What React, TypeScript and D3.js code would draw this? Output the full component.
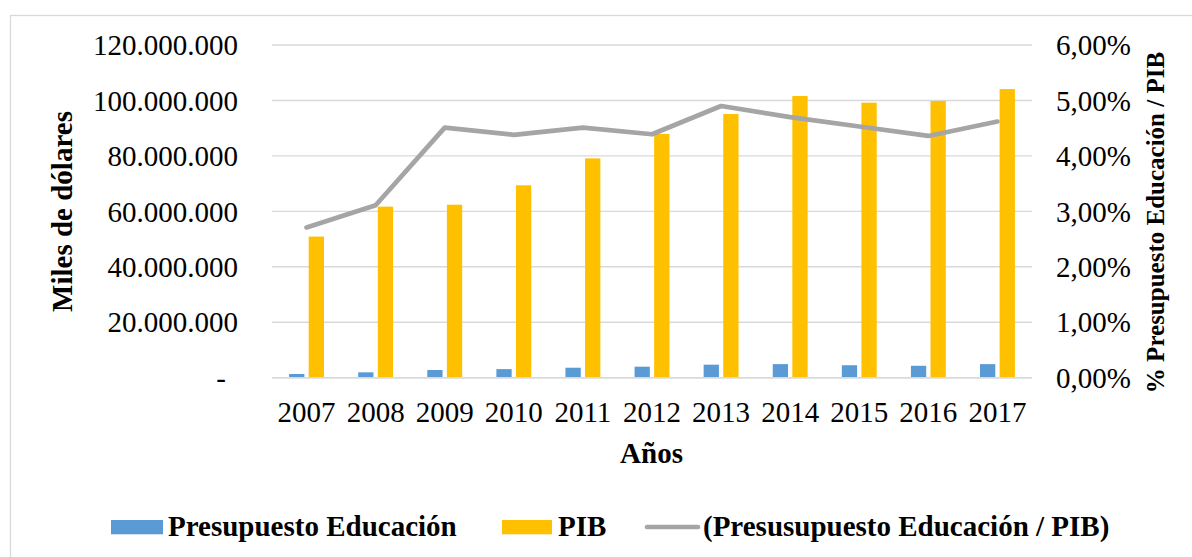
import React from "react";
import * as d3 from "d3";

const years = ["2007", "2008", "2009", "2010", "2011", "2012", "2013", "2014", "2015", "2016", "2017"];
const eduBudget = [1330000, 1940000, 2780000, 3100000, 3600000, 3970000, 4700000, 4900000, 4500000, 4300000, 4900000];
const pib = [50900000, 61700000, 62400000, 69400000, 79100000, 87900000, 95100000, 101600000, 99200000, 99800000, 104100000];
const ratioPct = [2.71, 3.11, 4.51, 4.38, 4.51, 4.39, 4.9, 4.7, 4.53, 4.36, 4.62];
const leftTicks = [0, 20000000, 40000000, 60000000, 80000000, 100000000, 120000000];
const rightTicks = [0, 0.01, 0.02, 0.03, 0.04, 0.05, 0.06];

const W = 1192;
const H = 557;
const plot = { left: 272, right: 1032, top: 45, bottom: 377.7 };

const BLUE = "#5B9BD5";
const GOLD = "#FFC000";
const GREY = "#A5A5A5";
const GRID = "#D9D9D9";
const FONT = "'Liberation Serif', 'Times New Roman', serif";

const loc = d3.formatLocale({ decimal: ",", thousands: ".", grouping: [3], currency: ["$", ""] });
const fmtLeft = (v: number) => (v === 0 ? "-" : loc.format(",.0f")(v));
const fmtRight = loc.format(".2%");

export default function App() {
  const x = d3.scaleBand<string>().domain(years).range([plot.left, plot.right]).padding(0);
  const groupW = x.bandwidth() * 0.505;
  const x1 = d3.scaleBand<string>().domain(["edu", "pib"]).range([0, groupW]).paddingInner(0.22);
  const y = d3.scaleLinear().domain([0, 120000000]).range([plot.bottom, plot.top]);
  const yR = d3.scaleLinear().domain([0, 0.06]).range([plot.bottom, plot.top]);
  const cx = (yr: string) => (x(yr) as number) + x.bandwidth() / 2;

  const line = d3
    .line<number>()
    .x((_, i) => cx(years[i]))
    .y((d) => yR(d / 100));

  return (
    <svg width={W} height={H} style={{ position: "absolute", left: 0, top: 0 }} fontFamily={FONT}>
      <rect x={0} y={0} width={W} height={H} fill="#fff" />
      <rect x={10.5} y={15.5} width={1300} height={700} fill="none" stroke={GRID} strokeWidth={1.3} />

      {leftTicks.map((t) => (
        <line key={"g" + t} x1={plot.left} x2={plot.right} y1={y(t)} y2={y(t)} stroke={GRID} strokeWidth={1.4} />
      ))}

      {years.map((yr, i) => {
        const gx = cx(yr) - groupW / 2;
        return (
          <g key={yr}>
            <rect x={gx + (x1("edu") as number)} y={y(eduBudget[i])} width={x1.bandwidth()} height={plot.bottom - y(eduBudget[i])} fill={BLUE} />
            <rect x={gx + (x1("pib") as number)} y={y(pib[i])} width={x1.bandwidth()} height={plot.bottom - y(pib[i])} fill={GOLD} />
          </g>
        );
      })}

      <line x1={plot.left} x2={plot.right} y1={plot.bottom} y2={plot.bottom} stroke={GRID} strokeWidth={1.6} />

      <path d={line(ratioPct) || ""} fill="none" stroke={GREY} strokeWidth={4.7} strokeLinecap="round" strokeLinejoin="round" />

      {leftTicks.map((t) => (
        <text key={"l" + t} x={t === 0 ? 226 : 238} y={y(t)} dy="0.35em" textAnchor="end" fontSize={29} fill="#000">
          {fmtLeft(t)}
        </text>
      ))}
      {rightTicks.map((t) => (
        <text key={"r" + t} x={1056} y={yR(t)} dy="0.35em" textAnchor="start" fontSize={29} fill="#000">
          {fmtRight(t)}
        </text>
      ))}
      {years.map((yr) => (
        <text key={"x" + yr} x={cx(yr)} y={421.7} textAnchor="middle" fontSize={29} fill="#000">
          {yr}
        </text>
      ))}

      <text x={651.5} y={463} textAnchor="middle" fontSize={29} fontWeight="bold" fill="#000">Años</text>
      <text transform="translate(72,211.5) rotate(-90)" textAnchor="middle" fontSize={29} fontWeight="bold" fill="#000">
        Miles de dólares
      </text>
      <text transform="translate(1164,222.5) rotate(-90)" textAnchor="middle" fontSize={25} fontWeight="bold" fill="#000">
        % Presupuesto Educación / PIB
      </text>

      <g fontSize={29} fontWeight="bold" fill="#000">
        <rect x={111} y={520} width={52} height={14.3} fill={BLUE} />
        <text x={168} y={535.7}>Presupuesto Educación</text>
        <rect x={502} y={520} width={50} height={14.3} fill={GOLD} />
        <text x={558} y={535.7}>PIB</text>
        <line x1={647} x2={698} y1={527} y2={527} stroke={GREY} strokeWidth={4.7} strokeLinecap="round" />
        <text x={703} y={535.7}>(Presusupuesto Educación / PIB)</text>
      </g>
    </svg>
  );
}
